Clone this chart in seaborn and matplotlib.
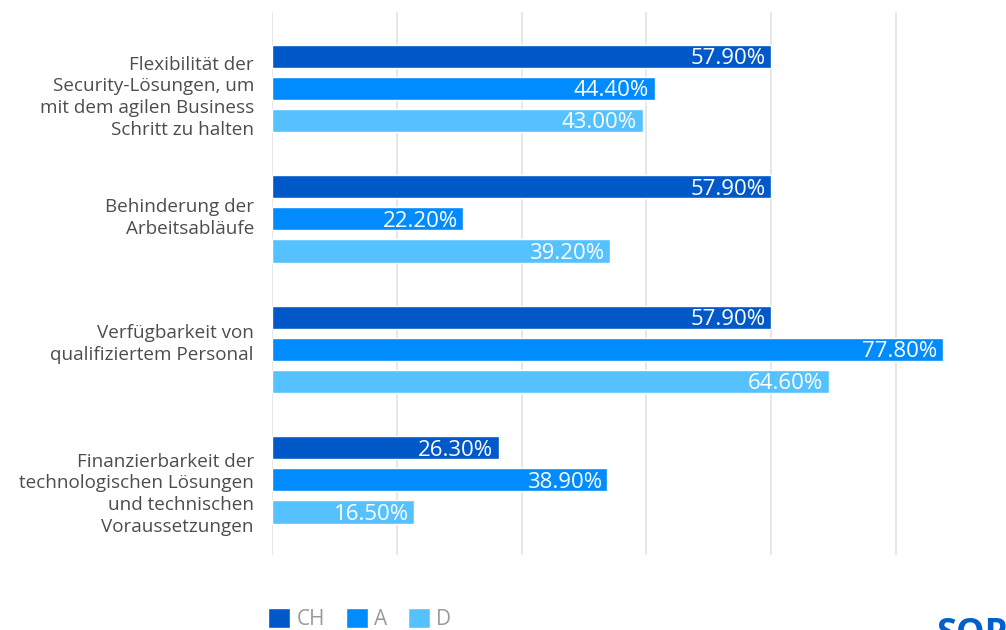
import matplotlib
matplotlib.use("Agg")
import matplotlib.pyplot as plt
import matplotlib.transforms as mtransforms
import seaborn as sns
import pandas as pd

categories = [
    "Flexibilität der\nSecurity-Lösungen, um\nmit dem agilen Business\nSchritt zu halten",
    "Behinderung der\nArbeitsabläufe",
    "Verfügbarkeit von\nqualifiziertem Personal",
    "Finanzierbarkeit der\ntechnologischen Lösungen\nund technischen\nVoraussetzungen",
]
series_names = ["CH", "A", "D"]
ch_values = [57.9, 57.9, 57.9, 26.3]
a_values = [44.4, 22.2, 77.8, 38.9]
d_values = [43.0, 39.2, 64.6, 16.5]
colors = ["#0058c9", "#008bff", "#55c1ff"]

rows = []
for name, vals in zip(series_names, [ch_values, a_values, d_values]):
    for cat, v in zip(categories, vals):
        rows.append({"Kategorie": cat, "Land": name, "Wert": v})
df = pd.DataFrame(rows)

sns.set_theme(style="white")
plt.rcParams["font.family"] = ["Open Sans", "DejaVu Sans"]

fig = plt.figure(figsize=(10.06, 6.30), dpi=100)
W, H = 1006, 630
left_px, right_px, top_px, bottom_px = 272, 1000, 12, 555
ax = fig.add_axes([left_px / W, 1 - bottom_px / H,
                   (right_px - left_px) / W, (bottom_px - top_px) / H])

sns.barplot(data=df, y="Kategorie", x="Wert", hue="Land", orient="h",
            palette=colors, width=0.736, gap=0.28, saturation=1,
            ax=ax, legend=True)

px_per_unit = 8.62
ax.set_xlim(0, (right_px - left_px) / px_per_unit)
ax.set_ylim(3.575, -0.586)

step = 57.9 / 4
ax.set_xticks([step * i for i in range(6)])
ax.set_xticklabels([])
ax.tick_params(axis="x", length=0)
ax.xaxis.grid(True, color="#e3e3e3", linewidth=1.2)
ax.set_axisbelow(True)
for s in ax.spines.values():
    s.set_visible(False)
ax.set_xlabel("")
ax.set_ylabel("")
ax.tick_params(axis="y", length=0, pad=13)

# small vertical nudges (in pixels, downward) for the multi-line category labels
label_shift_px = [5, -4.5, -9.5, 10.5]
for lbl, dy in zip(ax.get_yticklabels(), label_shift_px):
    lbl.set_fontsize(13.6)
    lbl.set_color("#4d4d4d")
    lbl.set_linespacing(1.28)
    lbl.set_transform(lbl.get_transform() +
                      mtransforms.ScaledTranslation(0, -dy / 100, fig.dpi_scale_trans))

for container in ax.containers:
    for bar in container:
        v = bar.get_width()
        ax.annotate(f"{v:.2f}%", xy=(v, bar.get_y() + bar.get_height() / 2),
                    xytext=(-4, 0), textcoords="offset points",
                    ha="right", va="center_baseline", color="white", fontsize=16)

sns.move_legend(ax, "lower left", bbox_to_anchor=(268 / W, 0.0),
                bbox_transform=fig.transFigure, ncol=3, frameon=False,
                title=None, fontsize=15, handlelength=1.06, handleheight=1.06,
                handletextpad=0.3, columnspacing=1.0, borderpad=0, borderaxespad=0)
for t in ax.get_legend().get_texts():
    t.set_color("#9a9a9a")

fig.text(936 / W, 1 - 617 / H, "SOPHOS", color="#0060cc", fontsize=26,
         fontweight="bold", ha="left", va="top")

fig.savefig("out.png", dpi=100)
